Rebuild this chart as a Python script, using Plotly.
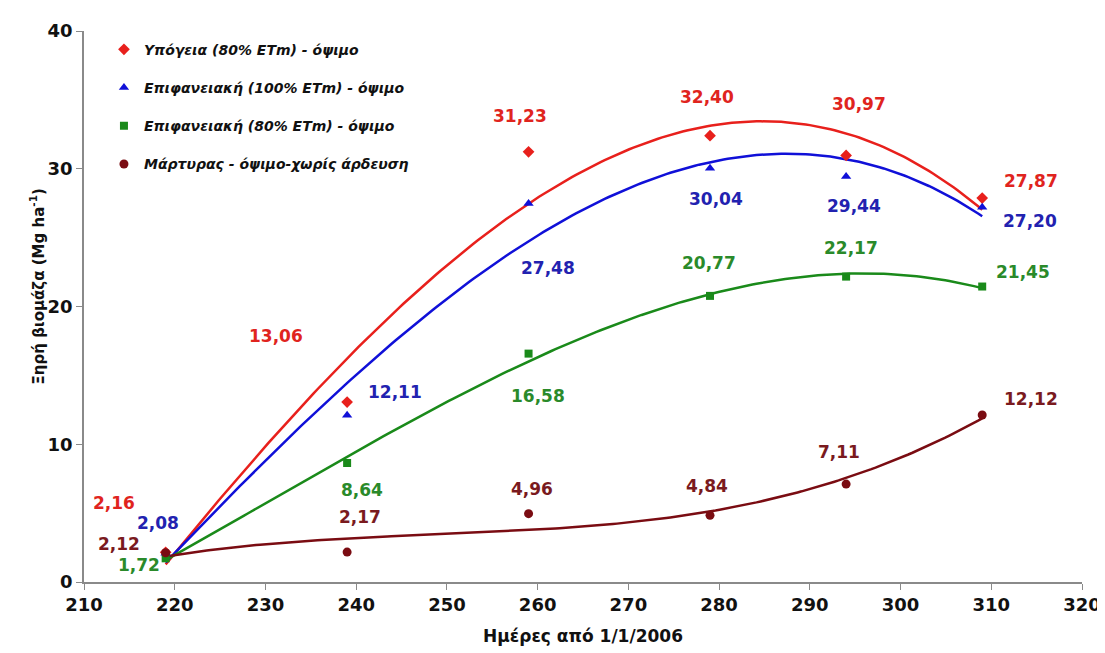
import numpy as np
import plotly.graph_objects as go

# ---- data ----
days = [219, 239, 259, 279, 294, 309]
series_names = [
    "Υπόγεια (80% ETm) - όψιμο",
    "Επιφανειακή (100% ETm) - όψιμο",
    "Επιφανειακή (80% ETm) - όψιμο",
    "Μάρτυρας - όψιμο-χωρίς άρδευση",
]
red_vals = [2.16, 13.06, 31.23, 32.40, 30.97, 27.87]
blue_vals = [2.08, 12.11, 27.48, 30.04, 29.44, 27.20]
green_vals = [1.72, 8.64, 16.58, 20.77, 22.17, 21.45]
brown_vals = [2.12, 2.17, 4.96, 4.84, 7.11, 12.12]
x_ticks = list(range(210, 321, 10))
y_ticks = [0, 10, 20, 30, 40]

# ---- styles ----
line_colors = ["#e8201c", "#1010d8", "#1a8a1a", "#7a0c12"]
label_colors = ["#e0241e", "#2222b0", "#2a8a2a", "#7a1a1e"]
symbols = ["diamond", "triangle-up", "square", "circle"]
msizes = [9, 9, 8, 9]
# pixel offsets of the value labels from their points (dx, dy up)
label_shifts = [
    [(-52, 49), (-71, 66), (-9, 36), (-3, 39), (13, 51), (49, 17)],
    [(-8, 30), (48, 23), (19, -65), (6, -31), (8, -30), (48, -14)],
    [(-27, -7), (15, -27), (9, -42), (-1, 33), (5, 29), (41, 15)],
    [(-47, 9), (13, 35), (3, 25), (-3, 29), (-7, 32), (49, 16)],
]

all_vals = [red_vals, blue_vals, green_vals, brown_vals]
FONT = "DejaVu Sans, Arial, sans-serif"

fig = go.Figure()
xs = np.array(days, dtype=float)
xfit = np.linspace(min(days), max(days), 200)
for i, vals in enumerate(all_vals):
    coef = np.polyfit(xs, np.array(vals), 3)
    fig.add_trace(go.Scatter(
        x=xfit, y=np.polyval(coef, xfit), mode="lines",
        line=dict(color=line_colors[i], width=2.5),
        showlegend=False, hoverinfo="skip"))
for i, vals in enumerate(all_vals):
    fig.add_trace(go.Scatter(
        x=days, y=vals, mode="markers",
        name="<b><i>" + series_names[i] + "</i></b>",
        legendgroup="g%d" % i,
        marker=dict(symbol=symbols[i], size=msizes[i], color=line_colors[i])))
    for j, (xv, yv) in enumerate(zip(days, vals)):
        dx, dy = label_shifts[i][j]
        fig.add_annotation(
            x=xv, y=yv, xshift=dx, yshift=dy, showarrow=False,
            text="<b>" + ("%.2f" % yv).replace(".", ",") + "</b>",
            font=dict(family=FONT, size=17, color=label_colors[i]))

# y-axis title
fig.add_annotation(
    xref="paper", yref="paper", x=0, y=0.536, xshift=-47,
    xanchor="center", yanchor="middle", showarrow=False,
    textangle=-90, text="<b>Ξηρή βιομάζα (Mg ha<sup>-1</sup>)</b>",
    font=dict(family=FONT, size=15, color="#111111"))

axis_common = dict(
    showgrid=False, zeroline=False, showline=True, linecolor="#8a8a8a",
    linewidth=1.5, ticks="outside", ticklen=6, tickcolor="#8a8a8a",
    tickfont=dict(family=FONT, size=18, color="#111111"))

fig.update_layout(
    width=1105, height=653,
    margin=dict(l=76, r=28, t=14, b=79),
    plot_bgcolor="white", paper_bgcolor="white",
    font=dict(family=FONT),
    xaxis=dict(range=[210, 320], tickvals=x_ticks,
               ticktext=["<b>%d</b>" % v for v in x_ticks],
               title=dict(text="<b>Ημέρες από 1/1/2006</b>",
                          font=dict(family=FONT, size=17, color="#111111"),
                          standoff=16),
               **axis_common),
    yaxis=dict(range=[0, 40], tickvals=y_ticks,
               ticktext=["<b>%d</b>" % v for v in y_ticks],
               **axis_common),
    legend=dict(x=0.02, y=0.995, xanchor="left", yanchor="top",
                bgcolor="rgba(0,0,0,0)", traceorder="grouped",
                tracegroupgap=17, itemwidth=30,
                font=dict(family=FONT, size=14, color="#111111")),
)

fig.write_html("out.html")
